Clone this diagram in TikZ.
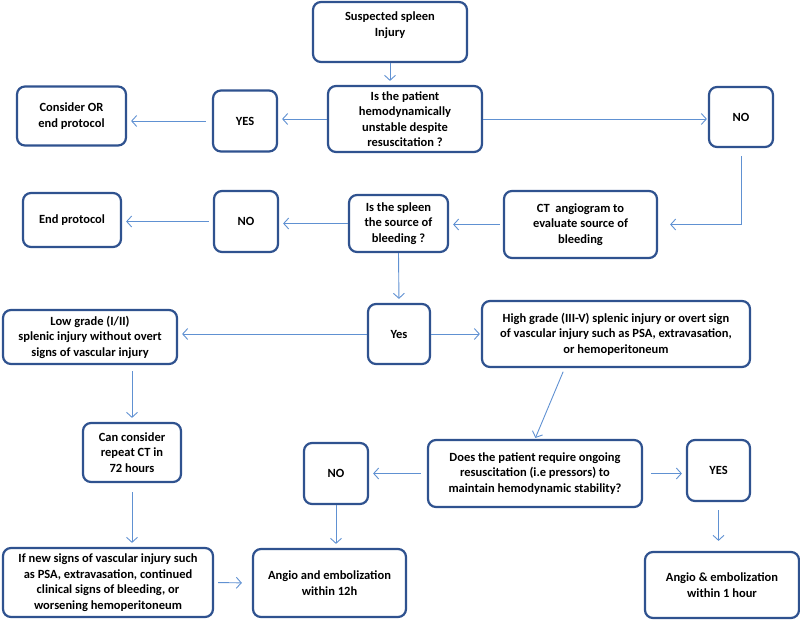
\documentclass[tikz,border=0pt]{standalone}
\usepackage{fontspec}
\setmainfont{Carlito}
\usetikzlibrary{arrows.meta}
\usetikzlibrary{calc}
\definecolor{boxblue}{RGB}{47,82,143}
\definecolor{arrowblue}{RGB}{96,145,210}

\begin{document}
\begin{tikzpicture}[x=1pt,y=-1pt,
	box/.style={draw=boxblue,line width=2.2pt,rounded corners=8pt,fill=white,align=center,
		inner sep=2pt,font=\bfseries\fontsize{12.5}{15.5}\selectfont},
	arr/.style={draw=arrowblue,line width=0.9pt,-{Straight Barb[length=5pt,width=11pt]},shorten >=4pt}]
	\useasboundingbox (0,0) rectangle (800,620);
	% first question
	\node[box,minimum width=154,minimum height=60] (susp) at (390,32) {Suspected spleen\\Injury\\\mbox{}};
	\node[box,minimum width=154,minimum height=66] (unstable) at (405,119)
		{Is the patient\\hemodynamically\\unstable despite\\resuscitation ?};
	\node[box,minimum width=64,minimum height=61] (yesA) at (245,121) {YES};
	\node[box,minimum width=109,minimum height=59] (considerOR) at (71.5,116) {Consider OR\\end protocol};
	\node[box,minimum width=64,minimum height=60] (noA) at (741,117) {NO};
	% source of bleeding
	\node[box,minimum width=153,minimum height=67] (ctangio) at (580.5,224.5)
		{CT\ \ angiogram to\\evaluate source of\\bleeding};
	\node[box,minimum width=99,minimum height=57] (spleen) at (398.5,223.5)
		{Is the spleen\\the source of\\bleeding ?};
	\node[box,minimum width=64,minimum height=61] (noB) at (246,221.5) {NO};
	\node[box,minimum width=98,minimum height=54] (endprot) at (72,220) {End protocol};
	% grade of injury
	\node[box,minimum width=62,minimum height=60] (yesB) at (399,334) {Yes};
	\node[box,minimum width=174,minimum height=54] (lowgrade) at (90,337)
		{Low grade (I/II)\\splenic injury without overt\\signs of vascular injury};
	\node[box,minimum width=268,minimum height=66] (highgrade) at (616,334)
		{High grade (III-V) splenic injury or overt sign\\of vascular injury such as PSA, extravasation,\\or hemoperitoneum};
	% lower part
	\node[box,minimum width=214,minimum height=67] (pressors) at (535,473.5)
		{Does the patient require ongoing\\resuscitation (i.e pressors) to\\maintain hemodynamic stability?};
	\node[box,minimum width=64,minimum height=61] (noC) at (336,473.5) {NO};
	\node[box,minimum width=63,minimum height=61] (yesC) at (718.5,470.5) {YES};
	\node[box,minimum width=154,minimum height=66] (angioHour) at (722,585)
		{Angio \& embolization\\within 1 hour};
	\node[box,minimum width=153,minimum height=68] (angioTwelve) at (329.5,583)
		{Angio and embolization\\within 12h};
	\node[box,minimum width=98,minimum height=59] (repeatCT) at (132,452.5)
		{Can consider\\repeat CT in\\72 hours};
	\node[box,minimum width=210,minimum height=69] (newsigns) at (108,582.5)
		{If new signs of vascular injury such\\as PSA, extravasation, continued\\clinical signs of bleeding, or\\worsening hemoperitoneum};
	% connectors
	\draw[arr] (susp.south) -- (susp.south |- unstable.north);
	\draw[arr] (unstable.west) -- (unstable.west -| yesA.east);
	\draw[arr,shorten <=6pt] (yesA.west) -- (yesA.west -| considerOR.east);
	\draw[arr,shorten >=1pt] (unstable.east) -- (unstable.east -| noA.west);
	\draw[arr,shorten <=8pt,shorten >=12pt] (noA.south) |- (ctangio.east);
	\draw[arr,shorten <=3pt] (ctangio.west) -- (ctangio.west -| spleen.east);
	\draw[arr] (spleen.west) -- (spleen.west -| noB.east);
	\draw[arr,shorten <=4pt] (noB.west) -- (noB.west -| endprot.east);
	\draw[arr] (spleen.south) -- (yesB.north);
	\draw[arr] (yesB.west) -- (yesB.west -| lowgrade.east);
	\draw[arr,shorten >=1pt] (yesB.east) -- (yesB.east -| highgrade.west);
	\draw[arr,shorten <=4pt,shorten >=1pt] ($(highgrade.south west)!0.31!(highgrade.south east)$) -- (pressors.north);
	\draw[arr,shorten <=6pt] (pressors.west) -- (pressors.west -| noC.east);
	\draw[arr,shorten <=8pt] (pressors.east) -- (pressors.east -| yesC.west);
	\draw[arr,shorten <=8pt,shorten >=10pt] (yesC.south) -- (yesC.south |- angioHour.north);
	\draw[arr] (noC.south) -- (noC.south |- angioTwelve.north);
	\draw[arr,shorten <=6pt] (repeatCT.north |- lowgrade.south) -- (repeatCT.north);
	\draw[arr,shorten <=9pt] (repeatCT.south) -- (repeatCT.south |- newsigns.north);
	\draw[arr,shorten <=4pt,shorten >=10pt] (newsigns.east) -- (angioTwelve.west);
\end{tikzpicture}
\end{document}
